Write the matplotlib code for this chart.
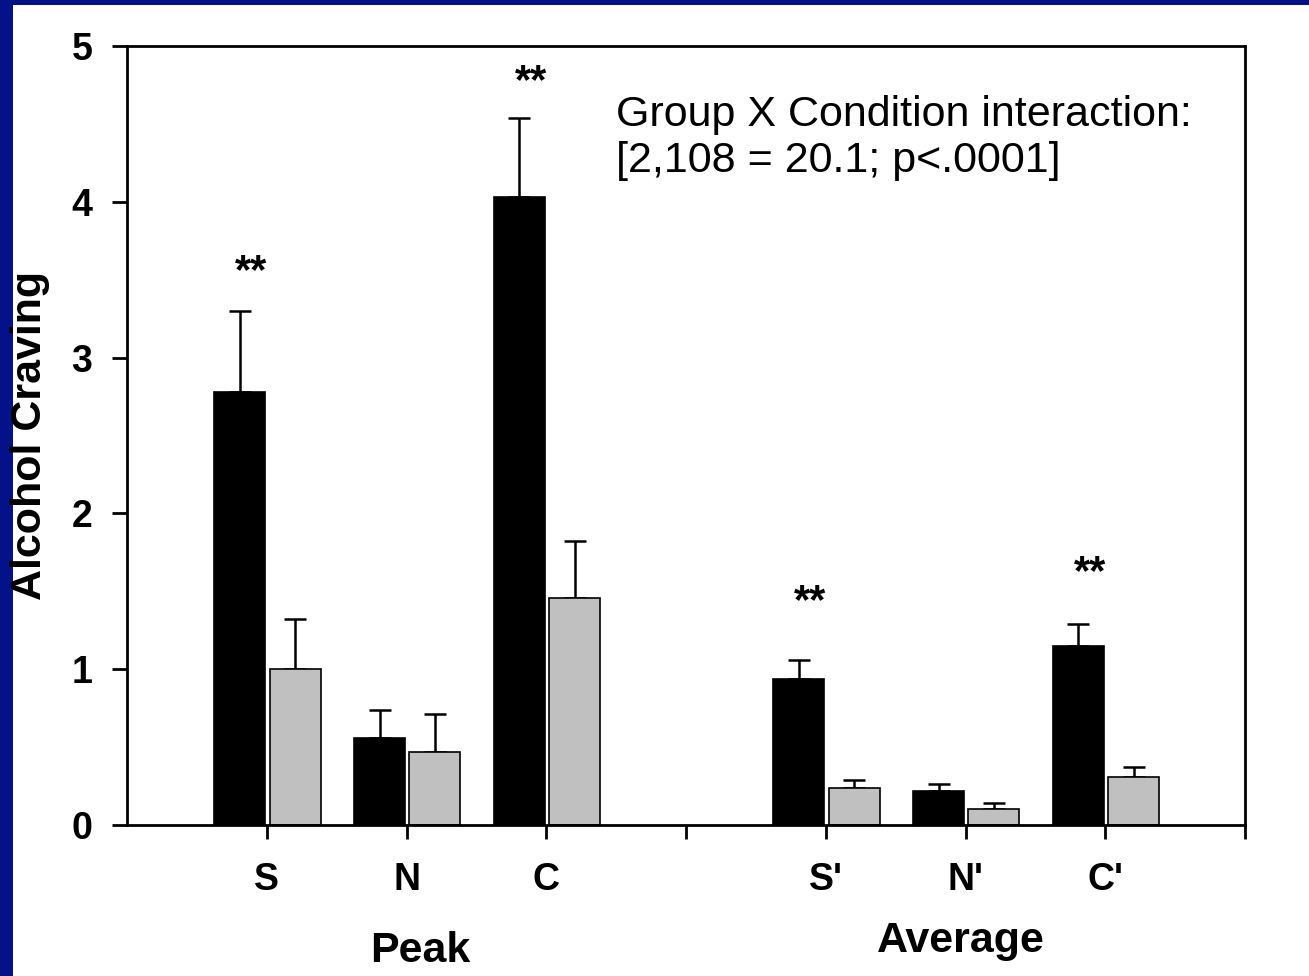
import matplotlib
matplotlib.use("Agg")
import matplotlib.pyplot as plt
from matplotlib.patches import Rectangle
import numpy as np

plt.rcParams['font.family'] = ['Liberation Sans', 'DejaVu Sans']

# Alcohol craving by condition: peak and average, two groups
categories = ["S", "N", "C", "S'", "N'", "C'"]
positions = [1, 2, 3, 5, 6, 7]
group1_mean = [2.78, 0.56, 4.03, 0.94, 0.22, 1.15]
group1_err = [0.52, 0.18, 0.51, 0.12, 0.04, 0.14]
group2_mean = [1.00, 0.47, 1.46, 0.24, 0.10, 0.31]
group2_err = [0.32, 0.24, 0.36, 0.05, 0.04, 0.06]
significant = [True, False, True, True, False, True]
star_heights = [3.55, None, 4.77, 1.43, None, 1.62]

fig = plt.figure(figsize=(13.09, 9.76), dpi=100)
fig.patch.set_facecolor('#04128a')
# white slide area inside the blue frame
fig.patches.append(Rectangle((13 / 1309, 0), 1, 1 - 5 / 976,
                             transform=fig.transFigure, facecolor='white',
                             edgecolor='none', zorder=-10))

ax = fig.add_axes([127 / 1309, 1 - 825 / 976, (1245 - 127) / 1309, (825 - 46) / 976])
ax.set_facecolor('none')

w = 0.365
x = np.array(positions, dtype=float)
ax.bar(x - 0.01 - w / 2, group1_mean, width=w, color='black', edgecolor='black',
       linewidth=1.2, zorder=2)
ax.bar(x + 0.02 + w / 2, group2_mean, width=w, color='#c0c0c0', edgecolor='black',
       linewidth=1.2, zorder=2)
ax.errorbar(x - 0.01 - w / 2, group1_mean, yerr=[np.zeros(len(x)), group1_err],
            fmt='none', ecolor='black', elinewidth=1.8, capsize=8, capthick=1.8, zorder=1)
ax.errorbar(x + 0.02 + w / 2, group2_mean, yerr=[np.zeros(len(x)), group2_err],
            fmt='none', ecolor='black', elinewidth=1.8, capsize=8, capthick=1.8, zorder=1)

for xi, sig, h in zip(x, significant, star_heights):
    if sig:
        ax.text(xi - 0.11, h, "**", ha='center', va='center', fontsize=30,
                fontweight='bold')

ax.set_xlim(0, 8)
ax.set_ylim(0, 5)
ax.set_xticks([1, 2, 3, 4, 5, 6, 7, 8])
ax.set_xticklabels(categories[:3] + [""] + categories[3:] + [""],
                   fontsize=27, fontweight='bold')
ax.set_yticks([0, 1, 2, 3, 4, 5])
ax.set_yticklabels(["0", "1", "2", "3", "4", "5"], fontsize=27, fontweight='bold')
ax.tick_params(axis='x', direction='out', length=10, width=2, pad=17)
ax.tick_params(axis='y', direction='out', length=11, width=2, pad=14)
for s in ax.spines.values():
    s.set_linewidth(2)

ax.set_ylabel("Alcohol Craving", fontsize=31, fontweight='bold')
ax.yaxis.set_label_coords(-0.069, 0.5)

ax.text(2.10, -0.162, "Peak", transform=ax.get_xaxis_transform(), ha='center',
        va='center', fontsize=31, fontweight='bold')
ax.text(5.97, -0.149, "Average", transform=ax.get_xaxis_transform(), ha='center',
        va='center', fontsize=31, fontweight='bold')

ax.text(3.5, 4.41, "Group X Condition interaction:\n[2,108 = 20.1; p<.0001]",
        ha='left', va='center', fontsize=31, linespacing=1.2)

fig.savefig("out.png", dpi=100, facecolor=fig.get_facecolor())
